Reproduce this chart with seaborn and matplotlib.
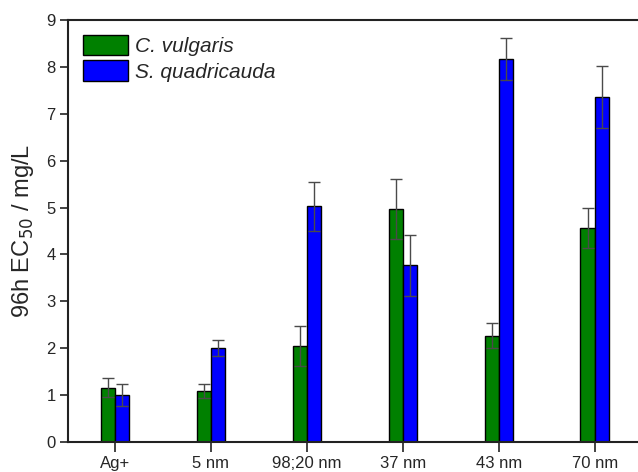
import matplotlib
matplotlib.use("Agg")
import matplotlib.pyplot as plt
import seaborn as sns
import pandas as pd
import numpy as np

categories = ["Ag+", "5 nm", "98;20 nm", "37 nm", "43 nm", "70 nm"]
series = ["C. vulgaris", "S. quadricauda"]
vulgaris = [1.16, 1.09, 2.05, 4.97, 2.27, 4.56]
vulgaris_err = [0.20, 0.15, 0.43, 0.64, 0.26, 0.42]
quadricauda = [1.00, 2.00, 5.03, 3.77, 8.16, 7.36]
quadricauda_err = [0.24, 0.17, 0.52, 0.65, 0.45, 0.66]
colors = ["#008000", "#0000FF"]

sns.set_style("ticks")
plt.rcParams["font.family"] = ["Liberation Sans", "DejaVu Sans"]

df = pd.DataFrame({
    "cat": categories * 2,
    "val": vulgaris + quadricauda,
    "sp": [series[0]] * 6 + [series[1]] * 6,
})

fig = plt.figure(figsize=(6.38, 4.72), dpi=100)
ax = fig.add_axes([68 / 638, 30 / 472, (640 - 68) / 638, 422 / 472])

sns.barplot(data=df, x="cat", y="val", hue="sp", order=categories,
            hue_order=series, palette=colors, width=0.3, errorbar=None,
            edgecolor="black", linewidth=1.0, saturation=1, ax=ax)

errs = [vulgaris_err, quadricauda_err]
vals = [vulgaris, quadricauda]
bar_containers = list(ax.containers)
for h, cont in enumerate(bar_containers):
    xs = [p.get_x() + p.get_width() / 2 for p in cont.patches]
    ax.errorbar(xs, vals[h], yerr=errs[h], fmt="none", ecolor="#4a4a4a",
                elinewidth=1.0, capsize=4, capthick=1.0, zorder=5)

ax.set_ylim(0, 9)
ax.set_yticks(range(0, 10))
ax.set_xlim(-0.49, 5.47)
ax.set_xlabel("")
ax.set_ylabel("96h EC$_{50}$ / mg/L", fontsize=17, labelpad=7)
ax.tick_params(axis="both", labelsize=12, direction="out", length=6, width=1.2,
               color="#222222", pad=3)
ax.tick_params(axis="x", length=7)
for s in ["left", "bottom", "top"]:
    ax.spines[s].set_linewidth(1.5)
    ax.spines[s].set_color("#222222")
ax.spines["right"].set_visible(False)

leg = ax.legend(loc="upper left", frameon=False,
                handlelength=2.2, handleheight=1.15, handletextpad=0.33,
                labelspacing=0.2, borderaxespad=0.3, borderpad=0.4,
                prop={"style": "italic", "size": 15})

fig.savefig("out.png", dpi=100)
